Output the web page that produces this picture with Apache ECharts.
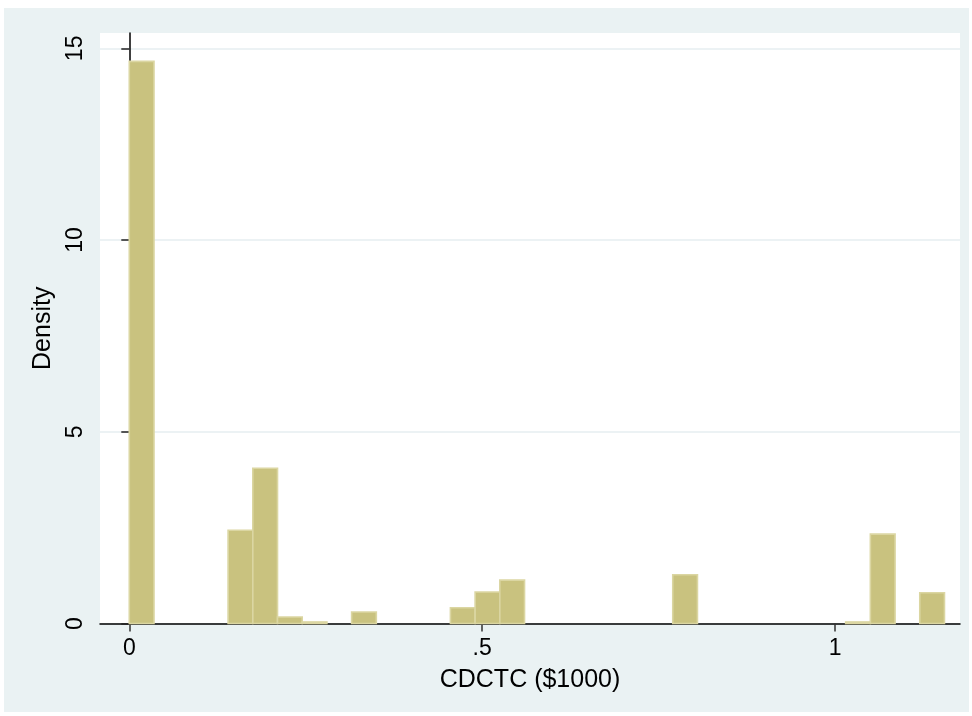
<!DOCTYPE html>
<html>
<head>
<meta charset="utf-8">
<script src="https://cdn.jsdelivr.net/npm/echarts@6/dist/echarts.min.js"></script>
<style>
  html, body { margin: 0; padding: 0; background: #ffffff; }
  #chart { width: 972px; height: 716px; }
</style>
</head>
<body>
<div id="chart"></div>
<script>
// Histogram of CDCTC ($1000): 33 equal-width bins starting at 0
const binOrigin = 0;
const binWidth = 0.035;
const density = [
  14.66, 0, 0, 0, 2.43, 4.05, 0.17, 0.04, 0, 0.30,
  0, 0, 0, 0.41, 0.82, 1.13, 0, 0, 0, 0,
  0, 0, 1.27, 0, 0, 0, 0, 0, 0, 0.04,
  2.33, 0, 0.80
];
const xTicks = [0, 0.5, 1];
const xTickLabels = ['0', '.5', '1'];
const yTicks = [0, 5, 10, 15];
const yTickLabels = ['0', '5', '10', '15'];
const xTitle = 'CDCTC ($1000)';
const yTitle = 'Density';

const bars = [];
density.forEach((d, i) => {
  if (d > 0) {
    const lo = binOrigin + i * binWidth;
    bars.push([lo, lo + binWidth, d]);
  }
});

const FONT = '"Liberation Sans", Arial, Helvetica, sans-serif';
const chart = echarts.init(document.getElementById('chart'), null, { renderer: 'canvas' });

chart.setOption({
  backgroundColor: '#ffffff',
  animation: false,
  graphic: [{
    type: 'rect',
    z: -10,
    silent: true,
    shape: { x: 4, y: 8, width: 965, height: 704 },
    style: { fill: '#eaf2f3' }
  }],
  grid: {
    left: 100, right: 12, top: 33, bottom: 92.5,
    show: true, backgroundColor: '#ffffff', borderWidth: 0,
    containLabel: false, outerBoundsMode: 'none'
  },
  xAxis: {
    type: 'value',
    min: -0.0415, max: 1.177,
    name: xTitle,
    nameLocation: 'middle',
    nameGap: 44,
    nameTextStyle: { fontFamily: FONT, fontSize: 25, color: '#000', verticalAlign: 'top' },
    axisLine: { show: true, onZero: false, lineStyle: { color: '#000', width: 1.5 } },
    axisTick: { show: true, length: 8, customValues: xTicks, lineStyle: { color: '#333', width: 1.5 } },
    axisLabel: {
      customValues: xTicks,
      margin: 14,
      fontFamily: FONT, fontSize: 23, color: '#000',
      formatter: v => {
        const k = xTicks.findIndex(t => Math.abs(t - v) < 1e-9);
        return k >= 0 ? xTickLabels[k] : '';
      }
    },
    splitLine: { show: false }
  },
  yAxis: {
    type: 'value',
    min: 0, max: 15.4, interval: 5,
    name: yTitle,
    nameLocation: 'middle',
    nameRotate: 90,
    nameGap: 44,
    nameTextStyle: { fontFamily: FONT, fontSize: 25, color: '#000' },
    axisLine: { show: true, lineStyle: { color: '#000', width: 1.5 } },
    axisTick: { show: true, length: 8, customValues: yTicks, lineStyle: { color: '#222', width: 1.5 } },
    axisLabel: {
      customValues: yTicks,
      rotate: 90,
      margin: 13,
      fontFamily: FONT, fontSize: 23, color: '#000',
      formatter: v => {
        const k = yTicks.findIndex(t => Math.abs(t - v) < 1e-9);
        return k >= 0 ? yTickLabels[k] : '';
      }
    },
    splitLine: { show: true, lineStyle: { color: '#e6eef0', width: 1.5 } }
  },
  series: [{
    type: 'custom',
    data: bars,
    encode: { x: [0, 1], y: 2 },
    renderItem: (params, api) => {
      const p0 = api.coord([api.value(0), api.value(2)]);
      const p1 = api.coord([api.value(1), 0]);
      return {
        type: 'rect',
        shape: { x: p0[0], y: p0[1], width: p1[0] - p0[0], height: p1[1] - p0[1] },
        style: { fill: '#c9c27f', stroke: '#dbd6a2', lineWidth: 1.6 }
      };
    }
  }]
});
</script>
</body>
</html>
